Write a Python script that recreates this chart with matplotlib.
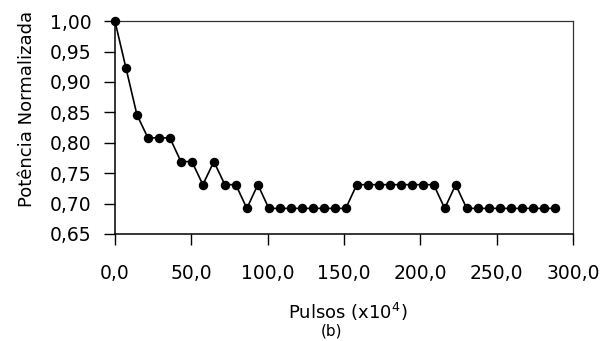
import matplotlib.pyplot as plt
from matplotlib.ticker import FuncFormatter

# pulse counts (x10^4), one reading every 7.2
step = 7.2
n_points = 41
pulsos = [round(i * step, 1) for i in range(n_points)]

# normalized power readings
potencia = [
    1.000, 0.923, 0.846, 0.808, 0.808, 0.808, 0.769, 0.769, 0.731, 0.769,
    0.731, 0.731, 0.692, 0.731, 0.692, 0.692, 0.692, 0.692, 0.692, 0.692,
    0.692, 0.692, 0.731, 0.731, 0.731, 0.731, 0.731, 0.731, 0.731, 0.731,
    0.692, 0.731, 0.692, 0.692, 0.692, 0.692, 0.692, 0.692, 0.692, 0.692,
    0.692,
]

x_ticks = [0, 50, 100, 150, 200, 250, 300]
y_ticks = [0.65, 0.70, 0.75, 0.80, 0.85, 0.90, 0.95, 1.00]

plt.rcParams["font.family"] = ["DejaVu Sans"]

fig = plt.figure(figsize=(6.05, 3.41), dpi=100)
ax = fig.add_axes([0.190, 0.314, 0.757, 0.624])

ax.plot(pulsos, potencia, color="black", linewidth=1.2,
        marker="o", markersize=5.8, markerfacecolor="black",
        markeredgecolor="black", clip_on=False, zorder=3)

ax.set_xlim(0, 300)
ax.set_ylim(0.65, 1.00)
ax.set_xticks(x_ticks)
ax.set_yticks(y_ticks)

# comma decimal separator
ax.xaxis.set_major_formatter(FuncFormatter(lambda v, p: f"{v:.1f}".replace(".", ",")))
ax.yaxis.set_major_formatter(FuncFormatter(lambda v, p: f"{v:.2f}".replace(".", ",")))

ax.tick_params(axis="both", direction="out", length=8, width=1, labelsize=13.5, color="black")
ax.tick_params(axis="y", pad=9)
ax.tick_params(axis="x", pad=14)

for side in ["left", "bottom"]:
    ax.spines[side].set_linewidth(1.1)
for side in ["top", "right"]:
    ax.spines[side].set_linewidth(0.9)
    ax.spines[side].set_color("#333333")

fig.text(0.045, 0.68, "Potência Normalizada", rotation=90,
         ha="center", va="center", fontsize=13)
fig.text(0.575, 0.085, r"Pulsos (x10$^4$)", ha="center", va="center", fontsize=13)
fig.text(0.548, 0.008, "(b)", ha="center", va="bottom", fontsize=11)

fig.savefig("out.png", dpi=100)
